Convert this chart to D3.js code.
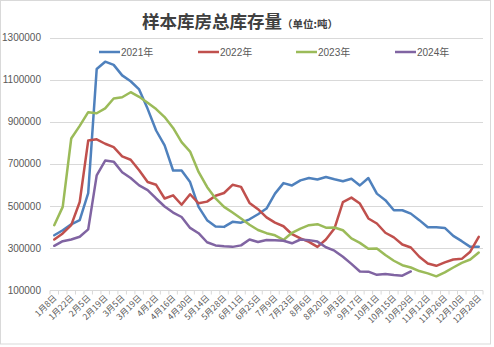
<!DOCTYPE html>
<html>
<head>
<meta charset="utf-8">
<script src="https://cdn.jsdelivr.net/npm/d3@7/dist/d3.min.js"></script>
<style>
  html, body { margin: 0; padding: 0; background: #fff; }
  svg { display: block; }
</style>
</head>
<body>
<svg id="chart" width="494" height="347"></svg>
<script>
const categories = ["1月8日","1月15日","1月22日","1月29日","2月5日","2月12日","2月19日","2月26日","3月5日","3月12日",
  "3月19日","3月26日","4月2日","4月9日","4月16日","4月23日","4月30日","5月7日","5月14日","5月21日",
  "5月28日","6月4日","6月11日","6月18日","6月25日","7月2日","7月9日","7月16日","7月23日","7月30日",
  "8月6日","8月13日","8月20日","8月27日","9月3日","9月10日","9月17日","9月24日","10月1日","10月8日",
  "10月15日","10月22日","10月29日","11月5日","11月12日","11月19日","11月26日","12月3日","12月10日","12月17日","12月28日"];

const s2021 = [360000,384000,412000,432000,560000,1150000,1185000,1170000,1120000,1092000,
  1053000,961000,858000,787000,668000,668000,613000,495000,432000,402000,
  400000,424000,420000,436000,460000,487000,558000,608000,597000,621000,
  632000,625000,637000,626000,617000,629000,597000,632000,558000,527000,
  479000,479000,463000,432000,398000,398000,395000,357000,332000,305000,305000];

const s2022 = [340000,369000,408000,518000,810000,816000,795000,779000,735000,719000,
  669000,613000,600000,535000,550000,505000,555000,512000,520000,548000,
  561000,600000,590000,514000,484000,445000,420000,403000,365000,345000,
  329000,305000,340000,392000,518000,539000,511000,440000,416000,372000,
  350000,316000,302000,258000,226000,215000,231000,245000,248000,282000,353000];

const s2023 = [408000,495000,820000,880000,945000,940000,963000,1010000,1016000,1040000,
  1018000,990000,960000,922000,870000,803000,758000,661000,590000,535000,
  495000,468000,440000,410000,385000,370000,360000,338000,372000,392000,
  408000,413000,396000,397000,384000,345000,324000,296000,297000,266000,
  239000,218000,207000,190000,179000,165000,184000,207000,229000,245000,278000];

const s2024 = [310000,332000,340000,353000,388000,645000,715000,710000,660000,632000,
  597000,575000,535000,497000,468000,447000,395000,370000,327000,312000,
  308000,305000,312000,340000,328000,338000,337000,334000,322000,340000,
  337000,330000,303000,287000,258000,224000,188000,187000,172000,176000,
  171000,168000,188000];

const seriesNames = ["2021年","2022年","2023年","2024年"];
const seriesColors = ["#4f81bd","#c0504d","#9bbb59","#8064a2"];
const seriesData = [s2021, s2022, s2023, s2024];
const yTicks = [100000,300000,500000,700000,900000,1100000,1300000];

(function () {
const svg = d3.select("#chart");
const W = 494, H = 347;
const pLeft = 50, pRight = 483, pTop = 37.5, pBottom = 290;

// frame
svg.append("rect").attr("x",0.5).attr("y",0.5).attr("width",W-4).attr("height",H-3.5)
  .attr("fill","#fff").attr("stroke","#d9d9d9").attr("stroke-width",1);

const x = d3.scaleBand().domain(categories).range([pLeft, pRight]).padding(0);
const y = d3.scaleLinear().domain([100000, 1300000]).range([pBottom, pTop]);
const cx = c => x(c) + x.bandwidth()/2;

// gridlines
svg.append("g").selectAll("line").data(yTicks.filter(v => v > 100000)).join("line")
  .attr("x1", pLeft).attr("x2", pRight)
  .attr("y1", d => Math.round(y(d)) + 0.5).attr("y2", d => Math.round(y(d)) + 0.5)
  .attr("stroke", "#d9d9d9").attr("stroke-width", 1);

// y axis labels
const yAxis = d3.axisLeft(y).tickValues(yTicks).tickSize(0).tickPadding(9).tickFormat(d3.format("d"));
const gy = svg.append("g").attr("transform", `translate(${pLeft},0)`).call(yAxis);
gy.select(".domain").remove();
gy.selectAll("text").attr("font-family", "Liberation Sans, Arial, sans-serif")
  .attr("font-size", "10px").attr("fill", "#595959");

// x axis
const gx = svg.append("g").attr("transform", `translate(0,${Math.round(pBottom)+0.5})`);
gx.append("line").attr("x1", pLeft).attr("x2", pRight).attr("stroke", "#d9d9d9");
const tickPos = categories.map(c => x(c)).concat([pRight]);
gx.selectAll("line.tk").data(tickPos).join("line").attr("class","tk")
  .attr("x1", d => d).attr("x2", d => d).attr("y1", 0).attr("y2", 4)
  .attr("stroke", "#d9d9d9");
gx.selectAll("text").data(categories.filter((c,i) => i % 2 === 0)).join("text")
  .attr("transform", d => `translate(${cx(d)+3},8) rotate(-45)`)
  .attr("text-anchor", "end")
  .attr("font-family", "Noto Sans CJK SC, sans-serif")
  .attr("font-size", "8.5px").attr("fill", "#595959")
  .text(d => d);

// lines
const line = d3.line().x((d,i) => cx(categories[i])).y(d => y(d));
seriesData.forEach((s, k) => {
  svg.append("path").datum(s).attr("d", line)
    .attr("fill", "none").attr("stroke", seriesColors[k]).attr("stroke-width", 2.5)
    .attr("stroke-linejoin", "round").attr("stroke-linecap", "round");
});

// legend
const legendX = [99, 198, 296, 395];
const lg = svg.append("g");
seriesNames.forEach((n, k) => {
  lg.append("line").attr("x1", legendX[k]).attr("x2", legendX[k] + 21)
    .attr("y1", 52).attr("y2", 52).attr("stroke", seriesColors[k]).attr("stroke-width", 2.5);
  lg.append("text").attr("x", legendX[k] + 22).attr("y", 55.5)
    .attr("font-family", "Liberation Sans, Noto Sans CJK SC, sans-serif")
    .attr("font-size", "10px").attr("fill", "#595959").text(n);
});

// title
const t = svg.append("text").attr("x", 142).attr("y", 28)
  .attr("font-family", "Noto Sans CJK SC, sans-serif").attr("font-weight", "bold").attr("fill", "#404040");
t.append("tspan").attr("font-size", "17.5px").text("样本库房总库存量");
t.append("tspan").attr("font-size", "10.5px").text("（单位:吨）");
})();
</script>
</body>
</html>
